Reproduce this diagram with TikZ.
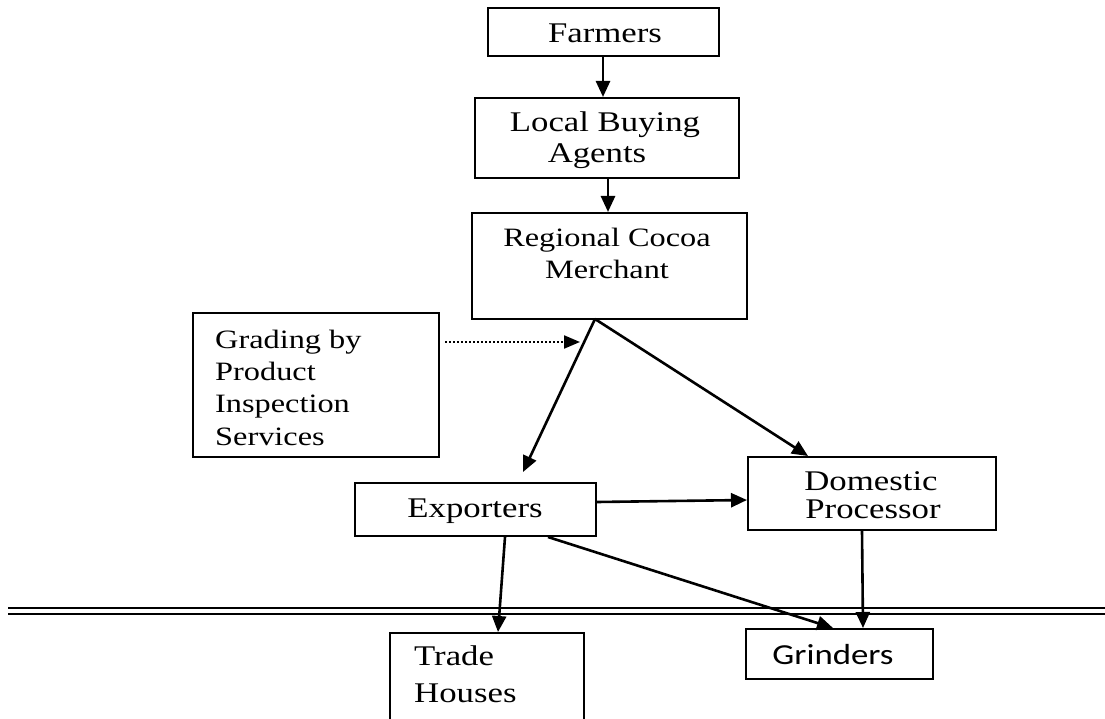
\documentclass[tikz,border=0pt]{standalone}
\usepackage{fontspec}
\setmainfont{Liberation Serif}[FakeStretch=1.22]
\newfontfamily\grfont{Carlito}[FakeStretch=1.2]
\usetikzlibrary{arrows.meta,calc}
\begin{document}
\begin{tikzpicture}[x=1pt,y=-1pt,
  box/.style={draw, line width=2pt, rectangle, inner sep=0pt},
  lbl/.style={anchor=base, inner sep=0pt, font=\fontsize{28.5}{34}\selectfont},
  lblsm/.style={anchor=base, inner sep=0pt, font=\fontsize{26.5}{32}\selectfont},
  flow/.style={line width=2.6pt, -{Triangle[length=16pt,width=14pt]}},
  hint/.style={line width=2pt, dotted, -{Triangle[length=16pt,width=13pt]}}]
\useasboundingbox (0,0) rectangle (1105,719);

% boxes, placed by their corners
\node[box, anchor=north west, minimum width=231pt, minimum height=48pt] (farmers) at (487,7) {};
\node[box, anchor=north west, minimum width=264pt, minimum height=80pt] (lba) at (474,97) {};
\node[box, anchor=north west, minimum width=275pt, minimum height=106pt] (rcm) at (471,212) {};
\node[box, anchor=north west, minimum width=246pt, minimum height=144pt] (grading) at (192,312) {};
\node[box, anchor=north west, minimum width=241pt, minimum height=53pt] (exp) at (354,482) {};
\node[box, anchor=north west, minimum width=248pt, minimum height=73pt] (dp) at (747,456) {};
\node[box, anchor=north west, minimum width=194pt, minimum height=110pt] (trade) at (389,632) {};
\node[box, anchor=north west, minimum width=187pt, minimum height=50pt] (grind) at (745,628) {};

% labels
\node[lbl] (farmers-t) at (605,43) {Farmers};
\node[lbl] (lba-t1) at (605,132) {Local Buying};
\node[lbl] (lba-t2) at (597,163) {Agents};
\node[lblsm] (rcm-t1) at (607,247) {Regional Cocoa};
\node[lblsm] (rcm-t2) at (607,278) {Merchant};
\node[lblsm, anchor=base west] (gr-t1) at (215,348) {Grading by};
\node[lblsm, anchor=base west] (gr-t2) at (215,380) {Product};
\node[lblsm, anchor=base west] (gr-t3) at (215,412) {Inspection};
\node[lblsm, anchor=base west] (gr-t4) at (215,445) {Services};
\node[lbl] (exp-t) at (475,517) {Exporters};
\node[lbl] (dp-t1) at (871,490) {Domestic};
\node[lbl] (dp-t2) at (873,518) {Processor};
\node[lbl, anchor=base west] (tr-t1) at (414,665) {Trade};
\node[lbl, anchor=base west] (tr-t2) at (414,702) {Houses};
\node[anchor=base, inner sep=0pt, font=\grfont\fontsize{29}{34}\selectfont] (grind-t) at (833,664) {Grinders};

% border between the domestic and the international market
\draw[line width=2pt] (8,608) -- (1105,608);
\draw[line width=2pt] (8,614) -- (1105,614);

% connectors
\coordinate (split) at (595,319);
\coordinate (grade-in) at (580,342);
\draw[flow] (farmers.south -| 603,0) -- (lba.north -| 603,0);
\draw[flow] (lba.south -| 608,0) -- (rcm.north -| 608,0);
\draw[flow] (split) -- ($(exp.north west)+(169,-10)$);
\draw[flow] (split) -- (dp.north west -| 808,0);
\draw[hint, shorten <=5pt] (grading.east |- grade-in) -- (grade-in);
\draw[flow] (exp.east |- 0,502) -- (dp.west |- 0,500);
\draw[flow] (exp.south -| 505,0) -- (trade.north -| 498,0);
\draw[flow] (exp.south -| 548,0) -- (grind.north -| 833,0);
\draw[flow] (dp.south -| 862,0) -- (grind.north -| 863,0);
\end{tikzpicture}
\end{document}
